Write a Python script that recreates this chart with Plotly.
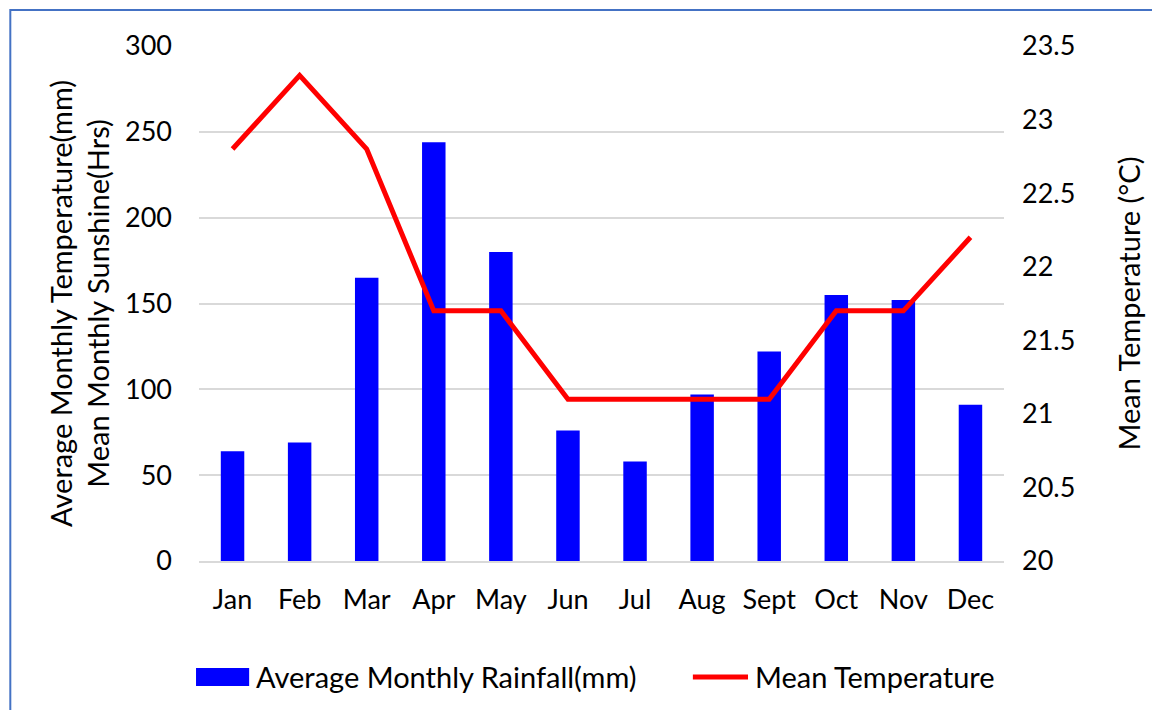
import plotly.graph_objects as go

# données
mois = ['Jan', 'Feb', 'Mar', 'Apr', 'May', 'Jun', 'Jul', 'Aug', 'Sept', 'Oct', 'Nov', 'Dec']
pluie = [64, 69, 165, 244, 180, 76, 58, 97, 122, 155, 152, 91]
temperature = [22.8, 23.3, 22.8, 21.7, 21.7, 21.1, 21.1, 21.1, 21.1, 21.7, 21.7, 22.2]

nom_pluie = 'Average Monthly Rainfall(mm)'
nom_temp = 'Mean Temperature'

police = "Lato"
taille = 29

fig = go.Figure()

fig.add_trace(go.Bar(x=mois, y=pluie, name=nom_pluie,
                     marker=dict(color='#0000FF', line=dict(width=0))))

fig.add_trace(go.Scatter(x=mois, y=temperature, name=nom_temp, yaxis='y2',
                         mode='lines', line=dict(color='#FF0000', width=5)))

# la page a une marge de 8px, on compense
fig.update_layout(
    width=1152, height=702,
    margin=dict(l=191, r=156, t=38, b=149),
    paper_bgcolor='white', plot_bgcolor='white',
    font=dict(family=police, size=taille, color='black'),
    bargap=0.65,
    showlegend=False,
    xaxis=dict(showgrid=False, ticks='', showline=True, linecolor='#D9D9D9', linewidth=1.5,
               ticklabelstandoff=14, tickfont=dict(size=27)),
    yaxis=dict(range=[0, 300], dtick=50, showgrid=True, gridcolor='#D9D9D9', gridwidth=1.5,
               zeroline=False, ticks='', ticklabelstandoff=26, tickfont=dict(size=27),
               title=dict(text='Average Monthly Temperature(mm)<br>Mean Monthly Sunshine(Hrs)',
                          font=dict(size=taille), standoff=6)),
    yaxis2=dict(range=[20, 23.5], dtick=0.5, overlaying='y', side='right', showgrid=False,
                zeroline=False, ticks='', ticklabelstandoff=17, tickfont=dict(size=27),
                title=dict(text='Mean Temperature (°C)', font=dict(size=taille), standoff=45)),
)

# cadre bleu autour du graphique
fig.add_shape(type='rect', xref='paper', yref='paper',
              x0=-0.2344, x1=1.25, y0=-0.35, y1=1.0699,
              line=dict(color='#4472C4', width=2), fillcolor='rgba(0,0,0,0)', layer='below')

# légende dessinée à la main (symboles larges comme dans Excel)
y_leg = -0.2252
fig.add_shape(type='rect', xref='paper', yref='paper', x0=-0.0037, x1=0.0623,
              y0=-0.2427, y1=-0.2078, fillcolor='#0000FF', line=dict(width=0))
fig.add_annotation(text=nom_pluie, xref='paper', yref='paper', x=0.0686, y=y_leg,
                   xanchor='left', yanchor='middle', showarrow=False, font=dict(size=taille))
fig.add_shape(type='line', xref='paper', yref='paper', x0=0.6135, x1=0.682,
              y0=y_leg, y1=y_leg, line=dict(color='#FF0000', width=5))
fig.add_annotation(text=nom_temp, xref='paper', yref='paper', x=0.688, y=y_leg,
                   xanchor='left', yanchor='middle', showarrow=False, font=dict(size=taille))

fig.write_html("out.html")
